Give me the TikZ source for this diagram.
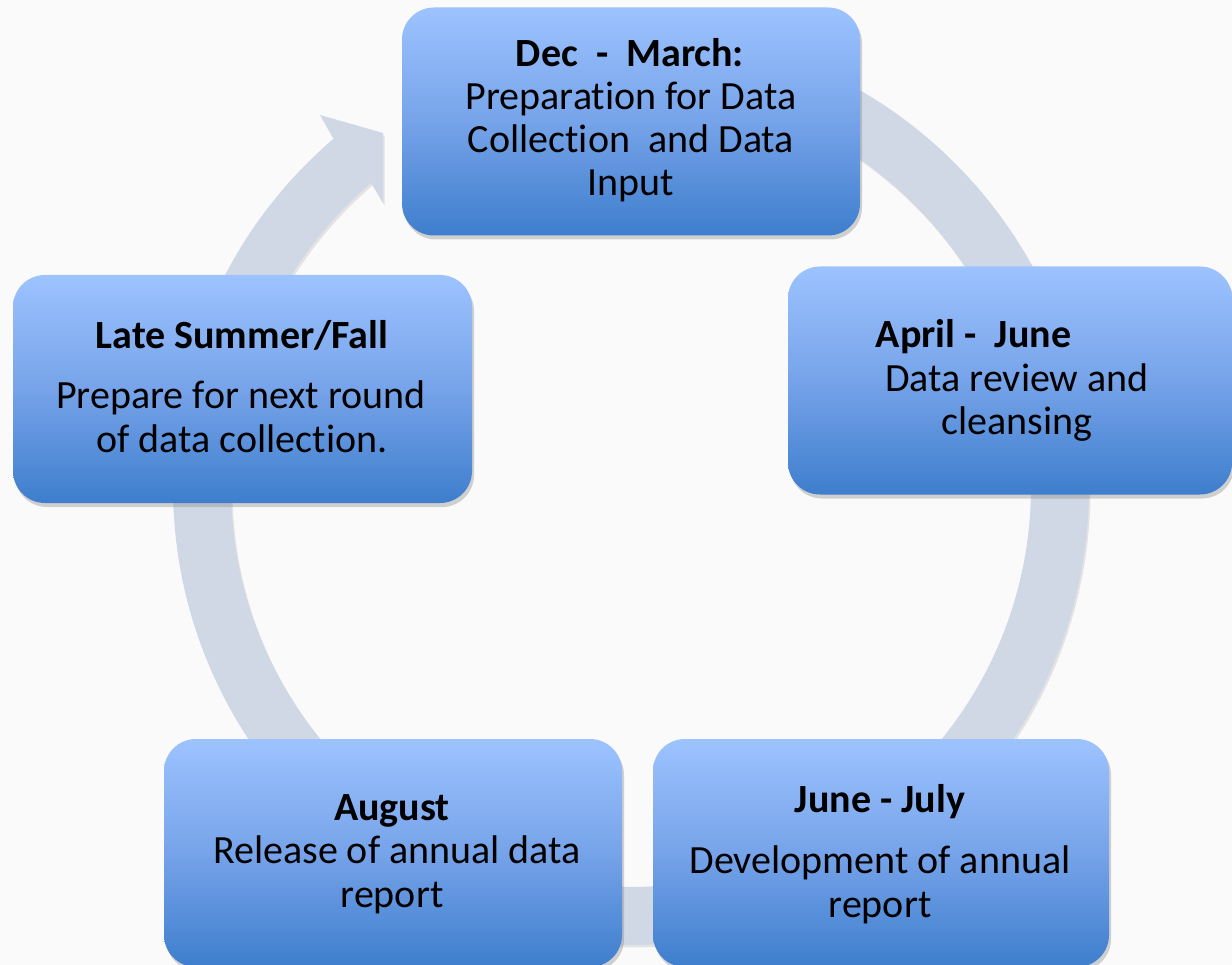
\documentclass[tikz,border=0pt]{standalone}
\usepackage{fontspec}
\setmainfont[Ligatures=NoCommon]{Carlito}
\usetikzlibrary{shadows}
\definecolor{bgc}{RGB}{250,250,250}
\definecolor{ringc}{RGB}{208,216,230}
\definecolor{boxtop}{RGB}{157,195,255}
\definecolor{boxmid}{RGB}{118,163,233}
\definecolor{boxbot}{RGB}{62,126,205}
\begin{document}
\begin{tikzpicture}[x=1pt,y=1pt,
  stage/.style={draw=none, rounded corners=32pt, top color=boxtop, bottom color=boxbot,
    middle color=boxmid, minimum width=#1, minimum height=228pt, inner sep=0pt,
    drop shadow={opacity=0.35, shadow xshift=2pt, shadow yshift=-4pt}},
  txt/.style={anchor=base, inner sep=0pt, font=\fontsize{40}{44}\selectfont},
  hd/.style={anchor=base, inner sep=0pt, font=\fontsize{40}{44}\selectfont\bfseries}]
\useasboundingbox (0,0) rectangle (1232,-965);
\clip (0,0) rectangle (1232,-965);
\fill[bgc] (0,0) rectangle (1232,-965);
% circular arrow
\begin{scope}[shift={(631,-487)}]
\fill[ringc, drop shadow={opacity=0.18, shadow xshift=1.5pt, shadow yshift=-2.5pt}]
  (130.5:458) -- (320-631,-115+487) -- (383-631,-133+487) -- (383-631,-203+487)
  -- (130.5:400) arc[start angle=130.5, end angle=450, radius=400pt]
  -- (90:458) arc[start angle=90, end angle=-229.5, radius=458pt] -- cycle;
\end{scope}
% boxes
\node[stage=458pt] (dec) at (631,-121.5) {};
\node[stage=444pt] (apr) at (1010,-380.5) {};
\node[stage=459pt] (fall) at (242.5,-389) {};
\node[stage=458pt] (aug) at (393,-853) {};
\node[stage=456pt] (jun) at (881,-853) {};
% texts
\node[hd]  (dec1) at (630,-67) {Dec\ \ -\ \ March:};
\node[txt] (dec2) at (631,-110) {Preparation for Data};
\node[txt] (dec3) at (631,-153) {Collection\ \ and Data};
\node[txt] (dec4) at (631,-196) {Input};
\node[hd]  (apr1) at (973.5,-348) {April -\ \ June};
\node[txt] (apr2) at (1017,-392) {Data review and};
\node[txt] (apr3) at (1017,-435) {cleansing};
\node[hd]  (fall1) at (242,-349) {Late Summer/Fall};
\node[txt] (fall2) at (241,-409) {Prepare for next round};
\node[txt] (fall3) at (242,-453) {of data collection.};
\node[hd]  (aug1) at (392,-820) {August};
\node[txt] (aug2) at (397,-863) {Release of annual data};
\node[txt] (aug3) at (392,-907) {report};
\node[hd]  (jun1) at (880,-812) {June - July};
\node[txt] (jun2) at (880,-873) {Development of annual};
\node[txt] (jun3) at (880,-917) {report};
\end{tikzpicture}
\end{document}
